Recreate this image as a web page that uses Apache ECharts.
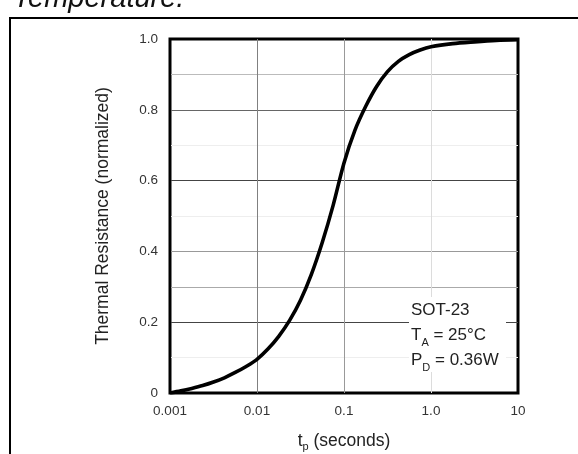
<!DOCTYPE html>
<html>
<head>
<meta charset="utf-8">
<script src="https://cdn.jsdelivr.net/npm/echarts@6/dist/echarts.min.js"></script>
<style>
html,body{margin:0;padding:0;background:#fff;}
#chart{width:578px;height:454px;}
</style>
</head>
<body>
<div id="chart"></div>
<script>
// Pulse duration t_p (seconds)
const pulseTimes = [0.001, 0.001334, 0.001778, 0.002371, 0.003162, 0.004217, 0.005623, 0.007499,
  0.01, 0.01334, 0.01778, 0.02371, 0.03162, 0.04217, 0.05623, 0.07499,
  0.1, 0.1334, 0.1778, 0.2371, 0.3162, 0.4217, 0.5623, 0.7499,
  1.0, 1.778, 3.162, 5.623, 10];
// Normalized thermal resistance
const thermalResistance = [0, 0.006, 0.013, 0.021, 0.031, 0.043, 0.058, 0.075,
  0.095, 0.124, 0.16, 0.205, 0.262, 0.335, 0.425, 0.53,
  0.65, 0.742, 0.81, 0.866, 0.908, 0.937, 0.956, 0.969,
  0.978, 0.987, 0.992, 0.996, 0.998];
const xTickLabels = ['0.001', '0.01', '0.1', '1.0', '10'];
const yTickLabels = ['0', '0.2', '0.4', '0.6', '0.8', '1.0'];
const titleText = 'Temperature.';
const noteLines = ['SOT-23', 'T', 'A', ' = 25°C', 'P', 'D', ' = 0.36W'];

const FONT = 'Liberation Sans, Arial, Helvetica, sans-serif';
const chart = echarts.init(document.getElementById('chart'), null, {renderer: 'canvas'});

const seriesData = pulseTimes.map((x, i) => [x, thermalResistance[i]]);

chart.setOption({
  backgroundColor: '#fff',
  animation: false,
  grid: {
    left: 170, top: 39, width: 348, height: 354,
    containLabel: false, outerBoundsMode: 'none',
    show: true, borderColor: '#000', borderWidth: 3, backgroundColor: 'transparent'
  },
  xAxis: {
    type: 'log', logBase: 10, min: 0.001, max: 10,
    axisLine: {show: false}, axisTick: {show: false},
    splitLine: {show: true, lineStyle: {width: 1, color: ['#000', '#808080', '#999999', '#dcdcdc', '#000']}},
    axisLabel: {
      margin: 11, color: '#333', fontFamily: FONT, fontSize: 13.5,
      formatter: v => xTickLabels[Math.round(Math.log10(v)) + 3]
    },
    name: '{n|t}{s|p}{n| (seconds)}',
    nameLocation: 'middle', nameGap: 37,
    nameTextStyle: {
      rich: {
        n: {fontFamily: FONT, fontSize: 17.5, color: '#222', lineHeight: 22, verticalAlign: 'middle'},
        s: {fontFamily: FONT, fontSize: 11, color: '#222', lineHeight: 22, verticalAlign: 'bottom'}
      }
    }
  },
  yAxis: {
    type: 'value', min: 0, max: 1, interval: 0.1,
    axisLine: {show: false}, axisTick: {show: false},
    splitLine: {show: true, lineStyle: {width: 1, color: ['#000', '#eeeeee', '#444', '#aaaaaa', '#999', '#eeeeee', '#444', '#eeeeee', '#666', '#bbbbbb', '#000']}},
    axisLabel: {
      margin: 12, color: '#333', fontFamily: FONT, fontSize: 13.5,
      formatter: v => {
        const k = Math.round(v * 10);
        return k % 2 === 0 ? yTickLabels[k / 2] : '';
      }
    },
    name: 'Thermal Resistance (normalized)',
    nameLocation: 'middle', nameGap: 58,
    nameTextStyle: {fontFamily: FONT, fontSize: 17.5, color: '#222'}
  },
  series: [{
    type: 'line',
    data: seriesData,
    smooth: 0.3,
    showSymbol: false,
    lineStyle: {color: '#000', width: 3.6},
    z: 5
  }],
  graphic: [
    {type: 'rect', shape: {x: 10, y: 18, width: 700, height: 600}, style: {fill: 'none', stroke: '#000', lineWidth: 2}, z: 100},
    {type: 'text', left: 13, top: -16, style: {text: titleText, font: 'italic 29px ' + FONT, fill: '#111'}, z: 100},
    {type: 'rect', shape: {x: 409, y: 297, width: 97, height: 75}, style: {fill: '#fff'}, z: 50},
    {
      type: 'text', left: 411, top: 298, z: 60,
      style: {
        text: noteLines[0] + '\n{n|' + noteLines[1] + '}{s|' + noteLines[2] + '}{n|' + noteLines[3] + '}\n{n|' + noteLines[4] + '}{s|' + noteLines[5] + '}{n|' + noteLines[6] + '}',
        font: '17px ' + FONT, fill: '#222', lineHeight: 25,
        rich: {
          n: {font: '17px ' + FONT, fill: '#222', lineHeight: 25, verticalAlign: 'middle'},
          s: {font: '11px ' + FONT, fill: '#222', lineHeight: 25, verticalAlign: 'bottom'}
        }
      }
    }
  ]
});
</script>
</body>
</html>
